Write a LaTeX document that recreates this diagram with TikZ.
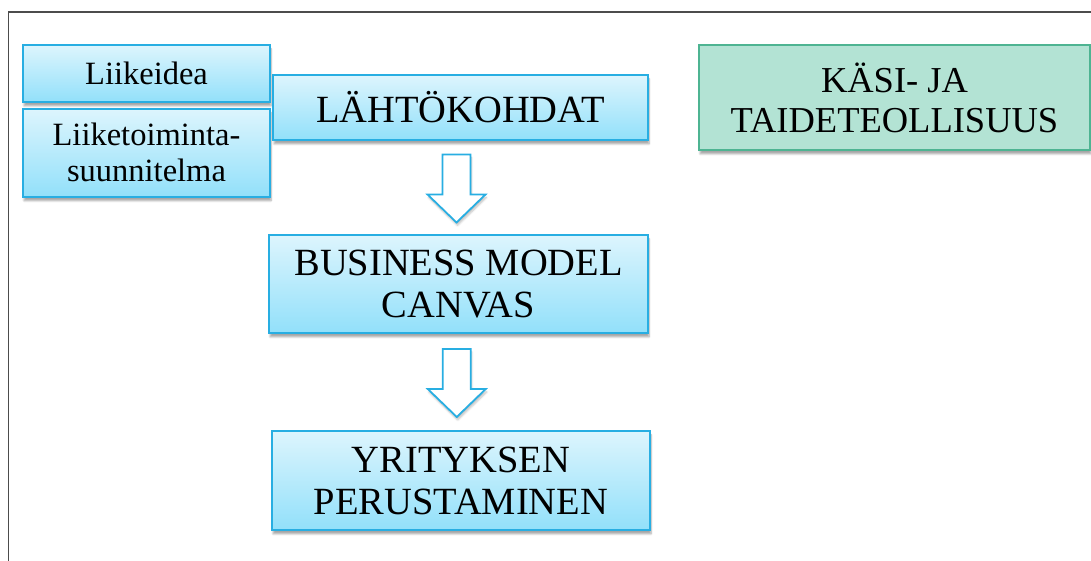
\documentclass[tikz,border=0pt]{standalone}
\usepackage{fontspec}
\setmainfont{Liberation Serif}
\usepackage{xcolor}
\usetikzlibrary{calc,positioning,shadows.blur}

\definecolor{boxtop}{RGB}{221,245,253}
\definecolor{boxbot}{RGB}{146,224,250}
\definecolor{boxline}{RGB}{40,174,226}
\definecolor{greenfill}{RGB}{179,227,212}
\definecolor{greenline}{RGB}{78,180,146}

\begin{document}
\begin{tikzpicture}[
  x=1pt,y=1pt,
  box/.style={draw=boxline,line width=1.8pt,top color=boxtop,bottom color=boxbot,
    align=center,inner sep=0pt,text=black,
    blur shadow={shadow xshift=1pt,shadow yshift=-4pt,shadow blur steps=6,shadow opacity=35}},
  bigbox/.style={box,font=\fontsize{38.5}{42}\selectfont},
  smallbox/.style={box,font=\fontsize{32.5}{36}\selectfont,minimum width=247pt},
  greenbox/.style={bigbox,draw=greenline,top color=greenfill,bottom color=greenfill,
    font=\fontsize{36.5}{40}\selectfont},
  blockarrow/.style={draw=boxline,line width=1.8pt,fill=white,line join=miter}
]
\useasboundingbox (0,0) rectangle (1091,561);
\draw[line width=1.3pt,black!70] (8.5,-20) -- (8.5,549) -- (1200,549);

% left column
\node[smallbox,minimum height=57pt] (idea) at (146.5,487.5) {Liikeidea};
\node[smallbox,minimum height=88pt,below=5pt of idea] (plan) {Liiketoiminta-\\suunnitelma};

% main chain
\node[bigbox,minimum width=375pt,minimum height=65pt] (lahto) at (460.5,453.5) {LÄHTÖKOHDAT};
\node[bigbox,minimum width=379pt,minimum height=98pt] (bmc) at (458.5,277) {BUSINESS MODEL\\CANVAS};
\node[bigbox,minimum width=378pt,minimum height=99pt] (yritys) at (461,80.5) {YRITYKSEN\\PERUSTAMINEN};

% industry
\node[greenbox,minimum width=391pt,minimum height=105pt] (kasi) at (894.5,463.5) {KÄSI- JA\\TAIDETEOLLISUUS};

% arrows
\foreach \a/\b in {lahto/bmc,bmc/yritys}{
  \coordinate (m) at ($(\a.south)!0.5!(\b.north)+(-3,-1)$);
  \draw[blockarrow,blur shadow={shadow xshift=1pt,shadow yshift=-3pt,shadow blur steps=5,shadow opacity=25}]
    ($(m)+(-14,34)$) -- ($(m)+(14,34)$) -- ($(m)+(14,-6)$) -- ($(m)+(29,-6)$)
    -- ($(m)+(0,-34)$) -- ($(m)+(-29,-6)$) -- ($(m)+(-14,-6)$) -- cycle;
}
\end{tikzpicture}
\end{document}
